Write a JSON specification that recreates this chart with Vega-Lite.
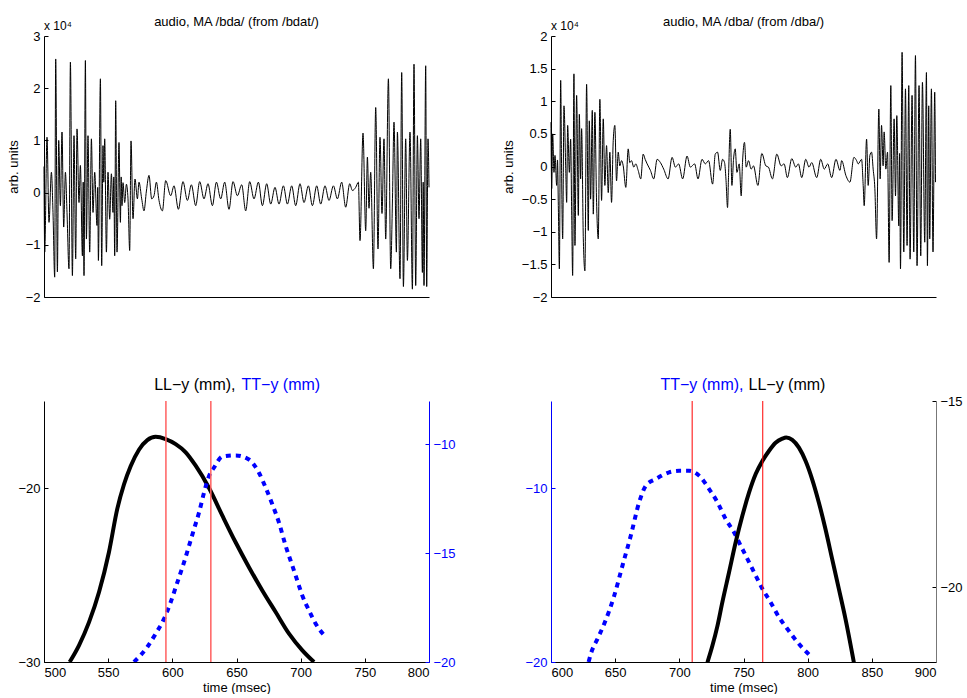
{
  "$schema": "https://vega.github.io/schema/vega-lite/v6.json",
  "background": "white",
  "padding": {"left": 7, "top": 16, "right": 0, "bottom": 0},
  "bounds": "flush",
  "columns": 2,
  "spacing": {"row": 104, "column": 122},
  "config": {
    "font": "Liberation Sans",
    "view": {"stroke": null},
    "axis": {"grid": false, "labelFont": "Liberation Sans", "titleFont": "Liberation Sans", "labelFontSize": 13, "titleFontSize": 13, "titleFontWeight": "normal", "labelColor": "black", "titleColor": "black", "domainColor": "black", "tickColor": "black", "tickSize": -4, "labelPadding": 8, "domainWidth": 1},
    "title": {"font": "Liberation Sans", "fontSize": 13, "fontWeight": "normal", "color": "black"}
  },
  "datasets": {
    "w1": [
      {"x":0,"v":0.5},{"x":0.7,"v":-1.14},{"x":3,"v":1.06},{"x":5,"v":-0.57},{"x":7.4,"v":0.39},{"x":9,"v":-0.38},{"x":10.7,"v":-1.62},{"x":11.7,"v":2.56},{"x":13.4,"v":-1.52},{"x":14.7,"v":1.0},{"x":16.4,"v":-0.25},{"x":18,"v":1.16},{"x":19.7,"v":-0.66},{"x":21.4,"v":0.39},{"x":23,"v":-0.38},{"x":25,"v":-1.46},{"x":26.4,"v":2.5},{"x":28.4,"v":-1.59},{"x":30,"v":1.09},{"x":31.7,"v":-1.27},{"x":33,"v":1.22},{"x":35,"v":-0.19},{"x":36.4,"v":0.52},{"x":38.4,"v":-1.21},{"x":39.2,"v":0.2},{"x":40,"v":-1.59},{"x":41.4,"v":2.53},{"x":42.4,"v":-0.89},{"x":44,"v":1.09},{"x":45.7,"v":-1.14},{"x":47.4,"v":1.03},{"x":49,"v":-0.38},{"x":50.7,"v":0.39},{"x":53,"v":-0.63},{"x":53.7,"v":0.1},{"x":54.4,"v":-1.3},{"x":56.4,"v":2.18},{"x":57.7,"v":-1.4},{"x":59,"v":0.9},{"x":59.8,"v":0.2},{"x":60.7,"v":1.03},{"x":62.4,"v":-1.14},{"x":64,"v":0.39},{"x":65.7,"v":-0.51},{"x":67.4,"v":0.36},{"x":69,"v":-0.38},{"x":69.8,"v":0.3},{"x":70.7,"v":-1.21},{"x":71.7,"v":1.76},{"x":73,"v":-1.14},{"x":75,"v":0.96},{"x":76.4,"v":-0.57},{"x":77.2,"v":0.3},{"x":78,"v":-0.25},{"x":79,"v":0.19},{"x":80.7,"v":-0.19},{"x":82.4,"v":0.16},{"x":84,"v":-0.12},{"x":85.7,"v":-1.11},{"x":87,"v":0.99},{"x":89,"v":-0.5},{"x":91,"v":0.26},{"x":93.4,"v":-0.12},{"x":95,"v":0.2},{"x":97.7,"v":-0.12},{"x":100,"v":-0.35},{"x":102.4,"v":0.03},{"x":105,"v":0.33},{"x":107.7,"v":-0.12},{"x":110,"v":-0.06},{"x":112.4,"v":0.2},{"x":115,"v":-0.15},{"x":118.4,"v":-0.35},{"x":121.7,"v":0.23},{"x":126.7,"v":-0.06},{"x":130,"v":0.13},{"x":134.4,"v":-0.32},{"x":139,"v":0.21},{"x":143.4,"v":-0.15},{"x":147.4,"v":0.15},{"x":151.7,"v":-0.25},{"x":155.7,"v":0.21},{"x":160,"v":-0.12},{"x":164,"v":0.17},{"x":168.4,"v":-0.25},{"x":172.4,"v":0.2},{"x":176.7,"v":-0.12},{"x":180.7,"v":0.2},{"x":185,"v":-0.32},{"x":189,"v":0.21},{"x":193.4,"v":-0.06},{"x":197.7,"v":0.15},{"x":201.7,"v":-0.35},{"x":205.7,"v":0.21},{"x":210,"v":-0.12},{"x":214.4,"v":0.2},{"x":218.4,"v":-0.25},{"x":222.7,"v":0.17},{"x":226.7,"v":-0.22},{"x":231,"v":0.1},{"x":235,"v":-0.22},{"x":239.4,"v":0.13},{"x":243.4,"v":-0.22},{"x":247.7,"v":0.13},{"x":251.7,"v":-0.25},{"x":256,"v":0.17},{"x":260,"v":-0.19},{"x":264.4,"v":0.13},{"x":268.4,"v":-0.25},{"x":272.7,"v":0.13},{"x":276.7,"v":-0.22},{"x":281,"v":0.13},{"x":285,"v":-0.15},{"x":289.4,"v":0.13},{"x":293.4,"v":-0.12},{"x":297.7,"v":0.2},{"x":301.7,"v":-0.28},{"x":305.7,"v":0.17},{"x":308.4,"v":0.04},{"x":311.7,"v":0.1},{"x":314.4,"v":0.2},{"x":316,"v":-0.92},{"x":319,"v":1.14},{"x":321.7,"v":-0.73},{"x":323.4,"v":0.68},{"x":325,"v":-0.3},{"x":326.7,"v":0.39},{"x":329.4,"v":-1.46},{"x":331.7,"v":1.63},{"x":334,"v":-1.08},{"x":336,"v":1.06},{"x":338,"v":-0.4},{"x":340,"v":1.03},{"x":341.7,"v":-0.89},{"x":344.4,"v":2.18},{"x":346.7,"v":-1.46},{"x":348.4,"v":-0.2},{"x":350,"v":1.35},{"x":352.4,"v":-1.14},{"x":353.4,"v":1.16},{"x":356,"v":-1.65},{"x":357.7,"v":2.3},{"x":359.4,"v":-1.8},{"x":361.7,"v":1.03},{"x":363.4,"v":-1.3},{"x":366,"v":1.16},{"x":368.4,"v":-1.85},{"x":370,"v":2.46},{"x":371.7,"v":-1.78},{"x":373.4,"v":1.09},{"x":375,"v":-0.5},{"x":376.7,"v":1.03},{"x":378.4,"v":-1.53},{"x":379.2,"v":0.2},{"x":380,"v":-1.78},{"x":381.7,"v":2.43},{"x":382.7,"v":-1.8},{"x":384,"v":1.03},{"x":385,"v":0.1}
    ],
    "w2": [
      {"x":0,"v":0.68},{"x":0.7,"v":-0.34},{"x":1.7,"v":0.5},{"x":3,"v":-0.09},{"x":4,"v":0.17},{"x":5.7,"v":-0.29},{"x":6.5,"v":0.1},{"x":7.4,"v":-0.65},{"x":8.4,"v":-1.57},{"x":9.7,"v":1.32},{"x":10.7,"v":-0.19},{"x":11.7,"v":-1.11},{"x":13,"v":0.93},{"x":14.7,"v":0.01},{"x":15.7,"v":-0.55},{"x":16.7,"v":0.63},{"x":18.4,"v":-0.09},{"x":19.7,"v":0.42},{"x":20.7,"v":-0.68},{"x":21.7,"v":-1.67},{"x":23,"v":1.42},{"x":24,"v":-1.21},{"x":25.7,"v":1.09},{"x":27.4,"v":-0.75},{"x":28.4,"v":0.8},{"x":29.7,"v":-0.19},{"x":30.7,"v":0.58},{"x":32.4,"v":-1.11},{"x":34,"v":-1.6},{"x":35.7,"v":1.26},{"x":37.4,"v":-0.98},{"x":38.4,"v":0.7},{"x":39.7,"v":-0.5},{"x":41.4,"v":0.86},{"x":42.4,"v":-0.73},{"x":44,"v":0.83},{"x":45.7,"v":-0.55},{"x":47.4,"v":-1.11},{"x":49,"v":1.03},{"x":50.7,"v":-0.52},{"x":52.4,"v":0.73},{"x":54,"v":-0.29},{"x":55.7,"v":0.32},{"x":57.4,"v":-0.4},{"x":59,"v":0.22},{"x":60.7,"v":-0.55},{"x":62.4,"v":0.4},{"x":64,"v":0.63},{"x":65.7,"v":-0.22},{"x":67.4,"v":0.22},{"x":69,"v":0.01},{"x":70.7,"v":0.09},{"x":72.4,"v":0.01},{"x":75,"v":-0.32},{"x":77.4,"v":0.27},{"x":79,"v":0.06},{"x":80.7,"v":0.09},{"x":83,"v":-0.01},{"x":85,"v":0.04},{"x":87.4,"v":-0.06},{"x":90,"v":-0.19},{"x":92.4,"v":0.19},{"x":94.4,"v":0.11},
      {"x":96.4,"v":0.04},{"x":99.7,"v":-0.06},{"x":103,"v":-0.19},{"x":106.4,"v":0.11},{"x":109.7,"v":0.06},{"x":113,"v":-0.04},{"x":117.4,"v":-0.19},{"x":121.4,"v":0.14},{"x":124.7,"v":-0.01},{"x":128,"v":0.04},{"x":132,"v":-0.19},{"x":136.4,"v":0.16},{"x":139.7,"v":-0.01},{"x":144,"v":0.04},{"x":147.4,"v":-0.19},{"x":151.4,"v":0.11},{"x":154.7,"v":0.04},{"x":158,"v":0.09},{"x":162,"v":-0.27},{"x":164.7,"v":0.19},{"x":167,"v":0.22},{"x":169.7,"v":-0.06},{"x":172,"v":0.11},{"x":174,"v":0.06},{"x":175.4,"v":-0.19},{"x":177,"v":-0.63},{"x":178,"v":-0.14},{"x":179.7,"v":0.57},{"x":181.4,"v":-0.29},{"x":183,"v":0.11},{"x":184.7,"v":0.27},{"x":186.4,"v":-0.09},{"x":188.7,"v":0.04},{"x":190.7,"v":-0.45},{"x":192,"v":0.06},{"x":194,"v":0.37},{"x":195.7,"v":-0.01},{"x":198,"v":0.09},{"x":200.7,"v":-0.04},{"x":203,"v":0.01},{"x":207.4,"v":-0.29},{"x":211.4,"v":0.2},{"x":215.4,"v":0.01},{"x":218,"v":-0.01},{"x":222,"v":-0.19},{"x":226.4,"v":0.19},{"x":230.7,"v":0.01},{"x":233.7,"v":0.04},{"x":237,"v":-0.17},{"x":241.4,"v":0.12},{"x":245.4,"v":-0.01},{"x":248,"v":0.04},{"x":251.4,"v":-0.17},{"x":255.4,"v":0.11},{"x":258.7,"v":-0.01},{"x":261.4,"v":0.06},{"x":266.4,"v":-0.17},{"x":270.4,"v":0.11},{"x":274,"v":-0.04},{"x":277.4,"v":0.04},{"x":281.4,"v":-0.17},{"x":285.7,"v":0.11},{"x":289.7,"v":-0.06},{"x":291.4,"v":0.09},{"x":295.7,"v":-0.14},{"x":299.7,"v":-0.24},{"x":303.7,"v":0.14},{"x":306.4,"v":0.09},{"x":308,"v":0.04},{"x":311.4,"v":0.11},
      {"x":313,"v":-0.29},{"x":314,"v":-0.6},{"x":316.4,"v":0.42},{"x":318,"v":-0.29},{"x":319.7,"v":0.17},{"x":321.4,"v":0.22},{"x":323,"v":-0.04},{"x":324.7,"v":-0.34},{"x":326.4,"v":-1.11},{"x":328.7,"v":0.88},{"x":330,"v":-0.19},{"x":331.4,"v":0.63},{"x":333,"v":0.01},{"x":334,"v":0.53},{"x":335.7,"v":-0.04},{"x":337.4,"v":0.22},{"x":339,"v":-1.47},{"x":340.7,"v":1.24},{"x":342,"v":-0.83},{"x":344,"v":0.73},{"x":345.4,"v":-0.45},{"x":346.7,"v":0.78},{"x":348.7,"v":-0.91},{"x":349.5,"v":0.2},{"x":350.4,"v":-1.57},{"x":352,"v":1.75},{"x":353.7,"v":-1.31},{"x":355.4,"v":1.19},{"x":357,"v":-1.21},{"x":358.7,"v":1.24},{"x":360,"v":-1.42},{"x":362,"v":1.09},{"x":363.7,"v":-1.31},{"x":365.4,"v":1.7},{"x":367,"v":-1.52},{"x":369,"v":1.24},{"x":370.7,"v":-1.37},{"x":372.4,"v":1.29},{"x":374.7,"v":-1.16},{"x":376.4,"v":1.44},{"x":377.4,"v":-1.52},{"x":378.7,"v":0.93},{"x":379.7,"v":-1.11},{"x":381.4,"v":1.19},{"x":383,"v":-1.31},{"x":384.7,"v":1.14},{"x":385.5,"v":-0.24}
    ],
    "ll1": [
      {"t":520,"v":-30},{"t":527.3,"v":-29.04},{"t":535.1,"v":-27.71},{"t":542.9,"v":-25.98},{"t":550.6,"v":-23.69},{"t":557.1,"v":-21.2},{"t":562.3,"v":-19.8},{"t":567.5,"v":-18.75},{"t":574,"v":-17.8},{"t":580.5,"v":-17.25},{"t":587,"v":-17.06},{"t":594.8,"v":-17.19},{"t":602.6,"v":-17.48},{"t":610.4,"v":-17.95},{"t":618.2,"v":-18.72},{"t":628.6,"v":-20},{"t":639,"v":-21.59},{"t":649.3,"v":-23.12},{"t":659.7,"v":-24.55},{"t":670.1,"v":-25.89},{"t":680.5,"v":-27.13},{"t":690.9,"v":-28.37},{"t":701.3,"v":-29.33},{"t":710.4,"v":-30}
    ],
    "tt1": [
      {"t":570.1,"v":-20},{"t":580.5,"v":-19.31},{"t":587,"v":-18.7},{"t":593.5,"v":-18.02},{"t":598.7,"v":-17.25},{"t":603.9,"v":-16.34},{"t":609.1,"v":-15.42},{"t":613,"v":-14.66},{"t":616.9,"v":-13.89},{"t":620.8,"v":-13.13},{"t":624.7,"v":-12.21},{"t":628.6,"v":-11.45},{"t":632.4,"v":-11.07},{"t":638.9,"v":-10.56},{"t":649.3,"v":-10.5},{"t":659.7,"v":-10.69},{"t":667.5,"v":-11.3},{"t":672.7,"v":-11.98},{"t":677.9,"v":-12.75},{"t":683.1,"v":-13.59},{"t":688.3,"v":-14.66},{"t":693.5,"v":-15.57},{"t":697.4,"v":-16.26},{"t":701.3,"v":-16.95},{"t":706.5,"v":-17.63},{"t":711.7,"v":-18.24},{"t":719.5,"v":-18.85}
    ],
    "ll2": [
      {"t":721.9,"v":-22.01},{"t":725.8,"v":-21.56},{"t":729.7,"v":-21.03},{"t":733.5,"v":-20.4},{"t":738.7,"v":-19.6},{"t":743.9,"v":-18.79},{"t":749.1,"v":-18.08},{"t":754.3,"v":-17.46},{"t":759.5,"v":-16.96},{"t":764.7,"v":-16.61},{"t":769.8,"v":-16.34},{"t":775,"v":-16.12},{"t":780.2,"v":-16.01},{"t":783.3,"v":-15.98},{"t":788,"v":-16.04},{"t":793.2,"v":-16.25},{"t":798.4,"v":-16.61},{"t":803.5,"v":-17.1},{"t":808.7,"v":-17.72},{"t":813.9,"v":-18.44},{"t":819.1,"v":-19.24},{"t":824.3,"v":-20.04},{"t":829.5,"v":-20.85},{"t":836,"v":-22.01}
    ],
    "tt2": [
      {"t":629.3,"v":-20},{"t":631.1,"v":-19.52},{"t":636.3,"v":-18.66},{"t":641.5,"v":-17.8},{"t":649.3,"v":-16.18},{"t":655.7,"v":-14.46},{"t":662.2,"v":-12.73},{"t":668.7,"v":-10.82},{"t":673.9,"v":-9.87},{"t":681.7,"v":-9.48},{"t":692,"v":-9.1},{"t":699.8,"v":-9.01},{"t":707.6,"v":-9.01},{"t":715.4,"v":-9.29},{"t":723.2,"v":-10.06},{"t":729.7,"v":-10.82},{"t":736.1,"v":-11.78},{"t":742.6,"v":-12.54},{"t":747.8,"v":-13.31},{"t":754.3,"v":-14.26},{"t":759.5,"v":-15.03},{"t":764.7,"v":-15.79},{"t":771.1,"v":-16.56},{"t":777.6,"v":-17.42},{"t":784.1,"v":-18.09},{"t":791.9,"v":-18.85},{"t":802.3,"v":-19.66}
    ],
    "red1": [{"t":595},{"t":630}],
    "red2": [{"t":710},{"t":765}]
  },
  "concat": [
    {
      "width": 385, "height": 261,
      "layer": [
        {
          "data": {"name": "w1"},
          "mark": {"type": "line", "color": "black", "strokeWidth": 1, "interpolate": "monotone"},
          "encoding": {
            "x": {"field": "x", "type": "quantitative", "scale": {"domain": [0, 385], "nice": false, "zero": false}, "axis": {"labels": false, "ticks": false, "title": null}},
            "y": {"field": "v", "type": "quantitative", "scale": {"domain": [-2, 3], "nice": false}, "axis": {"values": [-2, -1, 0, 1, 2, 3], "format": "d", "title": "arb. units", "titleX": -31, "titleBaseline": "middle"}}
          }
        },
        {
          "data": {"values": [{"label": "x 10⁴"}]},
          "mark": {"type": "text", "align": "left", "baseline": "alphabetic", "dy": -6, "fontSize": 12, "color": "black"},
          "encoding": {
            "x": {"datum": 0, "axis": {"labels": false, "ticks": false, "title": null}},
            "y": {"datum": 3, "axis": {"values": [-2, -1, 0, 1, 2, 3], "format": "d", "title": "arb. units", "titleX": -31, "titleBaseline": "middle"}},
            "text": {"field": "label"}
          }
        },
        {
          "data": {"values": [{"label": "audio, MA /bda/ (from /bdat/)"}]},
          "mark": {"type": "text", "align": "center", "baseline": "alphabetic", "dy": -10, "fontSize": 13, "color": "black"},
          "encoding": {
            "x": {"datum": 192.5, "axis": {"labels": false, "ticks": false, "title": null}},
            "y": {"datum": 3, "axis": {"values": [-2, -1, 0, 1, 2, 3], "format": "d", "title": "arb. units", "titleX": -31, "titleBaseline": "middle"}},
            "text": {"field": "label"}
          }
        }
      ]
    },
    {
      "width": 385, "height": 261,
      "layer": [
        {
          "data": {"name": "w2"},
          "mark": {"type": "line", "color": "black", "strokeWidth": 1, "interpolate": "monotone"},
          "encoding": {
            "x": {"field": "x", "type": "quantitative", "scale": {"domain": [0, 386], "nice": false, "zero": false}, "axis": {"labels": false, "ticks": false, "title": null}},
            "y": {"field": "v", "type": "quantitative", "scale": {"domain": [-2, 2], "nice": false}, "axis": {"values": [-2, -1.5, -1, -0.5, 0, 0.5, 1, 1.5, 2], "format": ".1~f", "labelOverlap": false, "title": "arb. units", "titleX": -43, "titleBaseline": "middle"}}
          }
        },
        {
          "data": {"values": [{"label": "x 10⁴"}]},
          "mark": {"type": "text", "align": "left", "baseline": "alphabetic", "dy": -6, "fontSize": 12, "color": "black"},
          "encoding": {
            "x": {"datum": 0, "axis": {"labels": false, "ticks": false, "title": null}},
            "y": {"datum": 2, "axis": {"values": [-2, -1.5, -1, -0.5, 0, 0.5, 1, 1.5, 2], "format": ".1~f", "labelOverlap": false, "title": "arb. units", "titleX": -43, "titleBaseline": "middle"}},
            "text": {"field": "label"}
          }
        },
        {
          "data": {"values": [{"label": "audio, MA /dba/ (from /dba/)"}]},
          "mark": {"type": "text", "align": "center", "baseline": "alphabetic", "dy": -10, "fontSize": 13, "color": "black"},
          "encoding": {
            "x": {"datum": 193, "axis": {"labels": false, "ticks": false, "title": null}},
            "y": {"datum": 2, "axis": {"values": [-2, -1.5, -1, -0.5, 0, 0.5, 1, 1.5, 2], "format": ".1~f", "labelOverlap": false, "title": "arb. units", "titleX": -43, "titleBaseline": "middle"}},
            "text": {"field": "label"}
          }
        }
      ]
    },
    {
      "width": 385, "height": 261,
      "layer": [
        {
          "data": {"name": "ll1"},
          "mark": {"type": "line", "color": "black", "strokeWidth": 4, "interpolate": "monotone", "clip": true},
          "encoding": {
            "x": {"field": "t", "type": "quantitative", "scale": {"domain": [500, 800], "nice": false, "zero": false}, "axis": {"values": [500, 550, 600, 650, 700, 750, 800], "format": "d", "title": "time (msec)", "titlePadding": 2}},
            "y": {"field": "v", "type": "quantitative", "scale": {"domain": [-30, -15], "nice": false, "zero": false}, "axis": {"orient": "left", "values": [-30, -20], "format": "d", "title": null}}
          }
        },
        {
          "data": {"name": "tt1"},
          "mark": {"type": "line", "color": "#0000ff", "strokeWidth": 4, "strokeDash": [5, 5], "interpolate": "monotone", "clip": true},
          "encoding": {
            "x": {"field": "t", "type": "quantitative", "scale": {"domain": [500, 800], "nice": false, "zero": false}},
            "y": {"field": "v", "type": "quantitative", "scale": {"domain": [-20, -8], "nice": false, "zero": false}, "axis": {"orient": "right", "values": [-20, -15, -10], "format": "d", "title": null, "labelColor": "#0000ff", "tickColor": "#0000ff", "domainColor": "#0000ff"}}
          }
        },
        {
          "data": {"name": "red1"},
          "mark": {"type": "rule", "color": "#ff6060", "strokeWidth": 1.5},
          "encoding": {"x": {"field": "t", "type": "quantitative", "scale": {"domain": [500, 800], "nice": false, "zero": false}}}
        },
        {
          "data": {"values": [{"label": "LL−y (mm),"}]},
          "mark": {"type": "text", "align": "right", "baseline": "alphabetic", "dx": -1, "dy": -11, "fontSize": 16, "color": "black"},
          "encoding": {"x": {"datum": 650, "scale": {"domain": [500, 800], "nice": false, "zero": false}}, "y": {"datum": 1, "scale": {"domain": [0, 1]}, "axis": null}, "text": {"field": "label"}}
        },
        {
          "data": {"values": [{"label": "TT−y (mm)"}]},
          "mark": {"type": "text", "align": "left", "baseline": "alphabetic", "dx": 5, "dy": -11, "fontSize": 16, "color": "#0000ff"},
          "encoding": {"x": {"datum": 650, "scale": {"domain": [500, 800], "nice": false, "zero": false}}, "y": {"datum": 1, "scale": {"domain": [0, 1]}, "axis": null}, "text": {"field": "label"}}
        }
      ],
      "resolve": {"scale": {"y": "independent"}, "axis": {"y": "independent"}}
    },
    {
      "width": 385, "height": 261,
      "layer": [
        {
          "data": {"name": "tt2"},
          "mark": {"type": "line", "color": "#0000ff", "strokeWidth": 4, "strokeDash": [5, 5], "interpolate": "monotone", "clip": true},
          "encoding": {
            "x": {"field": "t", "type": "quantitative", "scale": {"domain": [600, 900], "nice": false, "zero": false}, "axis": {"values": [600, 650, 700, 750, 800, 850, 900], "format": "d", "title": "time (msec)", "titlePadding": 2}},
            "y": {"field": "v", "type": "quantitative", "scale": {"domain": [-20, -5], "nice": false, "zero": false}, "axis": {"orient": "left", "values": [-20, -10], "format": "d", "title": null, "labelColor": "#0000ff", "tickColor": "#0000ff", "domainColor": "#0000ff"}}
          }
        },
        {
          "data": {"name": "ll2"},
          "mark": {"type": "line", "color": "black", "strokeWidth": 4, "interpolate": "monotone", "clip": true},
          "encoding": {
            "x": {"field": "t", "type": "quantitative", "scale": {"domain": [600, 900], "nice": false, "zero": false}},
            "y": {"field": "v", "type": "quantitative", "scale": {"domain": [-22, -15], "nice": false, "zero": false}, "axis": {"orient": "right", "values": [-20, -15], "format": "d", "title": null, "domainColor": "#777777"}}
          }
        },
        {
          "data": {"name": "red2"},
          "mark": {"type": "rule", "color": "#ff0000", "strokeWidth": 1},
          "encoding": {"x": {"field": "t", "type": "quantitative", "scale": {"domain": [600, 900], "nice": false, "zero": false}}}
        },
        {
          "data": {"values": [{"label": "TT−y (mm),"}]},
          "mark": {"type": "text", "align": "right", "baseline": "alphabetic", "dx": 0, "dy": -11, "fontSize": 16, "color": "#0000ff"},
          "encoding": {"x": {"datum": 750, "scale": {"domain": [600, 900], "nice": false, "zero": false}}, "y": {"datum": 1, "scale": {"domain": [0, 1]}, "axis": null}, "text": {"field": "label"}}
        },
        {
          "data": {"values": [{"label": "LL−y (mm)"}]},
          "mark": {"type": "text", "align": "left", "baseline": "alphabetic", "dx": 5, "dy": -11, "fontSize": 16, "color": "black"},
          "encoding": {"x": {"datum": 750, "scale": {"domain": [600, 900], "nice": false, "zero": false}}, "y": {"datum": 1, "scale": {"domain": [0, 1]}, "axis": null}, "text": {"field": "label"}}
        }
      ],
      "resolve": {"scale": {"y": "independent"}, "axis": {"y": "independent"}}
    }
  ]
}
